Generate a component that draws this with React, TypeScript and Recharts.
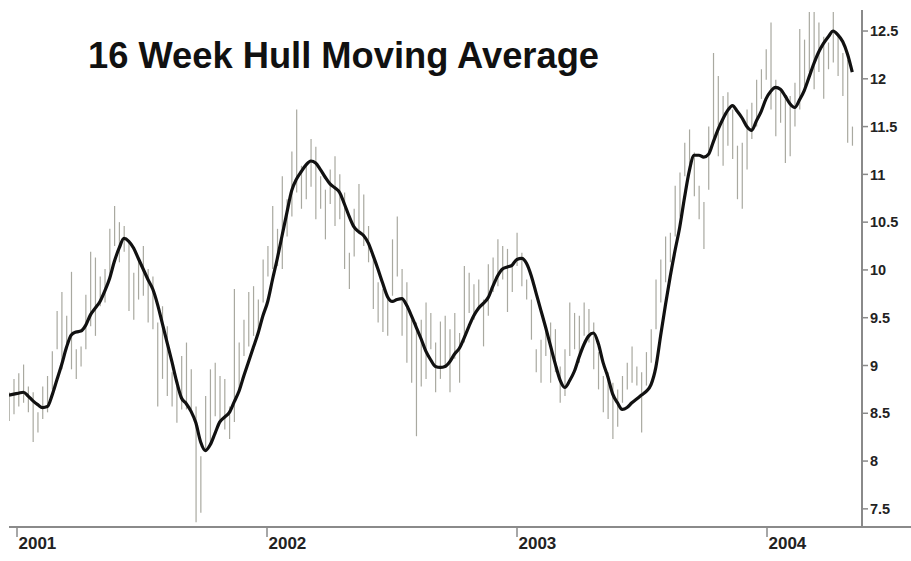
import { ComposedChart, Bar, Line, XAxis, YAxis } from 'recharts'

// weekly x positions in fractional years
const START_YEAR = 2000.968
const WEEK = 7 / 365.25

const hullValues = [
  8.69, 8.70, 8.71, 8.72, 8.68, 8.63, 8.59, 8.56, 8.57, 8.69,
  8.85, 9.01, 9.19, 9.32, 9.35, 9.36, 9.42, 9.53, 9.60, 9.67,
  9.78, 9.91, 10.09, 10.23, 10.33, 10.30, 10.23, 10.12, 10.01, 9.90,
  9.80, 9.64, 9.44, 9.24, 9.04, 8.83, 8.66, 8.60, 8.52, 8.40,
  8.20, 8.11, 8.17, 8.29, 8.41, 8.46, 8.51, 8.62, 8.73, 8.89,
  9.04, 9.19, 9.34, 9.52, 9.67, 9.90, 10.12, 10.36, 10.60, 10.83,
  10.95, 11.03, 11.10, 11.14, 11.12, 11.05, 10.97, 10.90, 10.86, 10.81,
  10.69, 10.56, 10.45, 10.40, 10.36, 10.28, 10.15, 10.01, 9.86, 9.72,
  9.67, 9.69, 9.70, 9.63, 9.52, 9.40, 9.28, 9.15, 9.06, 8.99,
  8.98, 8.99, 9.04, 9.12, 9.18, 9.29, 9.41, 9.52, 9.60, 9.65,
  9.71, 9.83, 9.94, 10.01, 10.03, 10.05, 10.11, 10.12, 10.07, 9.94,
  9.76, 9.58, 9.40, 9.21, 9.02, 8.85, 8.77, 8.84, 8.94, 9.09,
  9.22, 9.31, 9.34, 9.23, 9.03, 8.88, 8.70, 8.61, 8.54, 8.56,
  8.61, 8.65, 8.69, 8.73, 8.80, 8.98, 9.31, 9.63, 9.93, 10.20,
  10.45, 10.76, 11.04, 11.20, 11.20, 11.18, 11.21, 11.34, 11.47, 11.58,
  11.67, 11.72, 11.66, 11.59, 11.50, 11.46, 11.56, 11.66, 11.79, 11.87,
  11.91, 11.89, 11.82, 11.74, 11.70, 11.78, 11.88, 12.02, 12.16, 12.28,
  12.37, 12.44, 12.50, 12.46, 12.39, 12.26, 12.07,
]

const highValues = [
  8.72, 8.86, 8.92, 9.01, 8.78, 8.72, 8.51, 8.78, 8.89, 9.15,
  9.57, 9.77, 9.52, 9.98, 9.17, 9.20, 9.74, 10.19, 10.13, 9.93,
  10.01, 10.43, 10.67, 10.50, 10.46, 10.29, 9.97, 10.11, 10.25, 10.01,
  9.93, 9.45, 9.62, 9.41, 8.93, 8.86, 9.10, 9.24, 8.96, 8.57,
  8.05, 8.68, 8.96, 9.03, 8.89, 8.86, 8.57, 9.80, 9.24, 9.48,
  9.77, 9.83, 9.69, 10.11, 10.25, 10.67, 10.43, 10.98, 10.74, 11.24,
  11.68, 11.09, 11.10, 11.37, 11.29, 10.98, 10.84, 11.05, 11.19, 11.00,
  10.81, 10.18, 10.64, 10.90, 10.79, 10.46, 10.11, 9.87, 9.80, 9.69,
  10.32, 10.56, 10.01, 9.87, 9.48, 9.45, 9.48, 9.66, 9.55, 9.24,
  9.46, 9.52, 9.38, 9.55, 9.34, 10.04, 9.97, 9.85, 9.90, 9.69,
  10.06, 10.13, 10.32, 10.25, 10.22, 10.04, 10.39, 10.18, 9.90, 9.69,
  9.17, 9.27, 9.41, 9.45, 9.38, 8.99, 9.17, 9.66, 9.55, 9.52,
  9.66, 9.59, 9.45, 9.14, 8.89, 8.93, 8.82, 8.75, 8.89, 9.03,
  9.20, 8.99, 8.93, 9.14, 9.38, 9.90, 10.11, 10.35, 10.39, 10.88,
  11.02, 11.33, 11.47, 11.23, 10.88, 10.71, 11.50, 12.27, 12.03, 11.82,
  11.86, 11.68, 11.30, 11.33, 11.68, 11.75, 11.99, 12.10, 12.31, 12.59,
  11.99, 11.86, 11.79, 11.82, 11.96, 12.52, 12.41, 12.70, 12.70, 12.59,
  12.44, 12.38, 12.70, 12.44, 12.27, 12.20, 11.50,
]

const lowValues = [
  8.42, 8.49, 8.57, 8.61, 8.51, 8.20, 8.30, 8.44, 8.51, 8.75,
  9.17, 8.96, 9.20, 8.96, 8.86, 8.99, 9.17, 9.41, 9.31, 9.62,
  9.66, 9.93, 10.25, 10.08, 10.19, 9.57, 9.48, 9.69, 9.73, 9.45,
  9.38, 8.57, 8.86, 8.68, 8.57, 8.40, 8.54, 8.54, 8.54, 7.36,
  7.46, 8.13, 8.20, 8.47, 8.41, 8.33, 8.23, 8.41, 8.75, 9.10,
  9.20, 9.31, 9.38, 9.66, 9.93, 10.01, 10.04, 10.01, 10.35, 10.56,
  10.81, 10.64, 10.74, 10.87, 10.53, 10.64, 10.32, 10.69, 10.46, 10.53,
  10.01, 9.80, 10.14, 10.39, 10.25, 10.08, 9.59, 9.45, 9.35, 9.31,
  9.73, 9.93, 9.31, 9.03, 8.82, 8.26, 8.78, 8.86, 9.17, 8.72,
  8.86, 8.99, 8.72, 9.07, 8.82, 9.24, 9.55, 9.48, 9.59, 9.20,
  9.52, 9.77, 9.83, 9.90, 9.56, 9.77, 10.04, 9.83, 9.69, 9.27,
  8.93, 8.82, 9.10, 8.82, 8.93, 8.61, 8.68, 9.10, 9.17, 9.03,
  9.31, 9.24, 8.96, 8.75, 8.51, 8.44, 8.23, 8.36, 8.61, 8.75,
  8.82, 8.79, 8.30, 8.79, 9.03, 9.38, 9.66, 9.87, 10.08, 10.35,
  10.56, 10.98, 11.05, 10.77, 10.53, 10.22, 10.84, 11.37, 11.19, 11.09,
  11.30, 11.16, 10.74, 10.64, 11.05, 11.37, 11.50, 11.79, 11.99, 11.68,
  11.40, 11.54, 11.12, 11.19, 11.50, 11.68, 11.89, 12.07, 11.89, 12.07,
  11.79, 12.10, 12.17, 12.03, 11.82, 11.33, 11.30,
]

const yearTicks = [2001, 2002, 2003, 2004]
const priceTicks = [7.5, 8, 8.5, 9, 9.5, 10, 10.5, 11, 11.5, 12, 12.5]

const data = hullValues.map((hull, i) => ({
  t: START_YEAR + i * WEEK,
  hull,
  range: [lowValues[i], highValues[i]],
}))

const FONT = '"Liberation Sans", Arial, sans-serif'

function YearTick({ x, y, payload }: any) {
  return (
    <g>
      <line x1={x} y1={y} x2={x} y2={y + 10} stroke="#8a8a8a" strokeWidth={1.5} />
      <text x={x + 1.5} y={y + 22} fontSize={17} fontWeight="bold" fill="#222" fontFamily={FONT}>
        {payload.value}
      </text>
    </g>
  )
}

function PriceTick({ x, y, payload }: any) {
  return (
    <g>
      <line x1={x} y1={y} x2={x + 6} y2={y} stroke="#8a8a8a" strokeWidth={1.5} />
      <text x={x + 8} y={y} dy="0.36em" fontSize={14.5} fontWeight="bold" fill="#222" fontFamily={FONT}>
        {payload.value}
      </text>
    </g>
  )
}

export default function App() {
  return (
    <div style={{ position: 'absolute', left: 0, top: 0, width: 911, height: 561, background: '#fff' }}>
      <ComposedChart
        width={911}
        height={561}
        data={data}
        margin={{ top: 10, right: 0, bottom: 0, left: 9 }}
      >
        <XAxis
          dataKey="t"
          type="number"
          domain={[2000.968, 2004.38]}
          allowDataOverflow
          ticks={yearTicks}
          interval={0}
          height={34}
          tickSize={0}
          tickMargin={0}
          tickLine={false}
          axisLine={{ stroke: '#8a8a8a', strokeWidth: 2 }}
          tick={<YearTick />}
        />
        <YAxis
          orientation="right"
          type="number"
          domain={[7.31, 12.72]}
          allowDataOverflow
          ticks={priceTicks}
          interval={0}
          width={49}
          tickSize={0}
          tickMargin={0}
          tickLine={false}
          axisLine={{ stroke: '#8a8a8a', strokeWidth: 2 }}
          tick={<PriceTick />}
        />
        <Bar dataKey="range" barSize={1.2} fill="#a9a9a0" isAnimationActive={false} />
        <Line
          type="monotone"
          dataKey="hull"
          stroke="#111"
          strokeWidth={3.2}
          dot={false}
          activeDot={false}
          isAnimationActive={false}
        />
      </ComposedChart>
      <div style={{ position: 'absolute', left: 862, top: 526, width: 49, height: 2, background: '#8a8a8a' }} />
      <div
        style={{
          position: 'absolute',
          left: 88,
          top: 37.5,
          fontFamily: FONT,
          fontWeight: 'bold',
          fontSize: 36.3,
          lineHeight: '36px',
          color: '#111',
          whiteSpace: 'nowrap',
        }}
      >
        16 Week Hull Moving Average
      </div>
    </div>
  )
}
